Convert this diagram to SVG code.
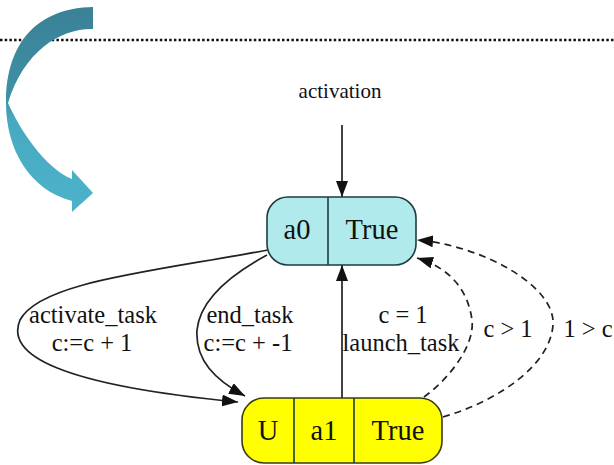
<svg xmlns="http://www.w3.org/2000/svg" width="614" height="465" viewBox="0 0 614 465">
<style>
  text { font-family: "Liberation Serif", "Times New Roman", serif; fill: #111; text-anchor: middle; }
  .node { font-size: 28.5px; }
  .lbl { font-size: 24.5px; }
  .edge { fill: none; stroke: #222; stroke-width: 1.7; }
  .dash { stroke-dasharray: 7 5; }
  .sep { stroke: #1e3d3d; stroke-width: 1.6; }
</style>
<defs>
  <marker id="ah" viewBox="0 0 16 12" refX="16" refY="6" markerWidth="16" markerHeight="12" markerUnits="userSpaceOnUse" orient="auto">
    <path d="M0,0 L16,6 L0,12 Z" fill="#111"/>
  </marker>
  <linearGradient id="arcg" x1="0" y1="7" x2="0" y2="212" gradientUnits="userSpaceOnUse">
    <stop offset="0" stop-color="#3a8196"/>
    <stop offset="0.45" stop-color="#3e91a6"/>
    <stop offset="0.55" stop-color="#47a9c0"/>
    <stop offset="1" stop-color="#4cb3cb"/>
  </linearGradient>
</defs>

<line x1="0" y1="40" x2="614" y2="40" stroke="#111" stroke-width="2.5" stroke-dasharray="2.5 2.2"/>

<path d="M93,7 L93,29 C62,28 24,50 8,103 C20,130 45,168 72,179 L72,170 L93,193 L72,212 L72,201 C30,190 6,150 6,103 C6,40 40,8 93,7 Z" fill="url(#arcg)"/>

<g id="connectors">
  <line class="edge" x1="342" y1="125" x2="342" y2="197" marker-end="url(#ah)"/>
  <line class="edge" x1="342" y1="398" x2="342" y2="265" marker-end="url(#ah)"/>
  <path class="edge" d="M268,250 C150,272 40,282 20,320 C5,355 60,385 238,402" marker-end="url(#ah)"/>
  <path class="edge" d="M267,255 C230,275 200,300 197,330 C195,360 215,380 245,396" marker-end="url(#ah)"/>
  <path class="edge dash" d="M424,397 C450,378 475,345 472,320 C468,290 450,268 417,258" marker-end="url(#ah)"/>
  <path class="edge dash" d="M443,417 C500,400 550,365 553,325 C556,285 480,245 417,240" marker-end="url(#ah)"/>
  <text x="340" y="98" style="font-size:21px">activation</text>
  <text class="lbl" x="93" y="323">activate_task</text>
  <text class="lbl" x="92" y="351">c:=c + 1</text>
  <text class="lbl" x="250" y="323">end_task</text>
  <text class="lbl" x="248" y="351">c:=c + -1</text>
  <text class="lbl" x="403" y="323">c = 1</text>
  <text class="lbl" x="401" y="351">launch_task</text>
  <text class="lbl" x="508" y="337">c &gt; 1</text>
  <text class="lbl" x="588" y="337">1 &gt; c</text>
</g>

<g id="a0">
  <rect x="267" y="197" width="149" height="68" rx="21" fill="#b0eaec" stroke="#1e3d3d" stroke-width="1.6"/>
  <line class="sep" x1="328" y1="197" x2="328" y2="265"/>
  <text class="node" x="297" y="239">a0</text>
  <text class="node" x="372" y="239">True</text>
</g>

<g id="a1">
  <rect x="242" y="398" width="200" height="65" rx="22" fill="#ffff00" stroke="#3a3a1a" stroke-width="1.6"/>
  <line class="sep" x1="294" y1="398" x2="294" y2="463" stroke="#3a3a1a"/>
  <line class="sep" x1="354" y1="398" x2="354" y2="463" stroke="#3a3a1a"/>
  <text class="node" x="268" y="440">U</text>
  <text class="node" x="324" y="440">a1</text>
  <text class="node" x="398" y="440">True</text>
</g>
</svg>
